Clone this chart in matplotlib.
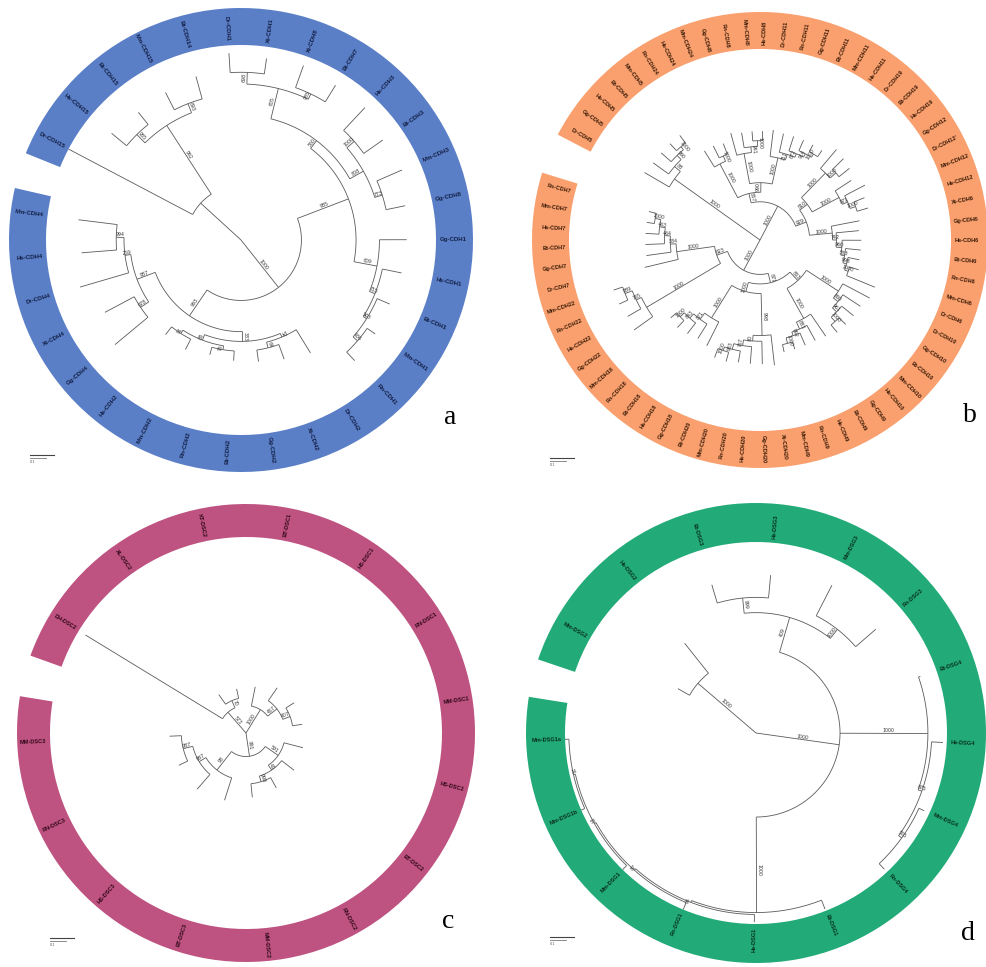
import numpy as np
import matplotlib
matplotlib.use("Agg")
import matplotlib.pyplot as plt
from matplotlib.patches import Wedge

W, H = 986, 967

# ---------------- panel a : classical cadherins ----------------
labels_a = ["Mm-CDH4", "Hs-CDH4", "Dr-CDH4", "Xt-CDH4", "Gg-CDH4", "Hs-CDH2",
            "Mm-CDH2", "Rn-CDH2", "Bt-CDH2", "Gg-CDH2", "Xt-CDH2", "Dr-CDH2",
            "Rn-CDH1", "Mm-CDH1", "Bt-CDH1", "Hs-CDH1", "Gg-CDH1", "Gg-CDH8",
            "Mm-CDH3", "Bt-CDH3", "Hs-CDH3", "Bt-CDH7", "Xt-CDH8", "Xt-CDH1",
            "Dr-CDH1", "Bt-CDH14", "Mm-CDH15", "Bt-CDH15", "Hs-CDH15", "Dr-CDH15"]
cdh4_a = "(((Mm-CDH4:0.2,Hs-CDH4:0.18)994:0.04,Dr-CDH4:0.26)259:0.03,(Xt-CDH4:0.17,Gg-CDH4:0.22)678:0.05)987:0.1"
cdh2_a = ("(((Hs-CDH2:0.05,Mm-CDH2:0.06)91:0.02,(Rn-CDH2:0.04,Bt-CDH2:0.05)76:0.02)88:0.03,"
          "((Gg-CDH2:0.06,Xt-CDH2:0.08)64:0.03,Dr-CDH2:0.14)52:0.02)383:0.05")
cdh1_a = "((((Rn-CDH1:0.06,Mm-CDH1:0.05)436:0.03,Bt-CDH1:0.07)563:0.02,Hs-CDH1:0.1)715:0.03,Gg-CDH1:0.14)609:0.12"
cdh38_a = "((Gg-CDH8:0.1,Mm-CDH3:0.14)773:0.04,(Bt-CDH3:0.12,Hs-CDH3:0.16)1000:0.05)808:0.08"
top_a = "((Bt-CDH7:0.1,Xt-CDH8:0.12)985:0.03,(Xt-CDH1:0.08,Dr-CDH1:0.1)698:0.06)605:0.16"
cdh15_a = ("(Dr-CDH15:0.72,((Bt-CDH14:0.12,Mm-CDH15:0.1)893:0.05,"
           "(Bt-CDH15:0.08,Hs-CDH15:0.1)985:0.06)992:0.42):0.28")
tree_a = ("(((" + cdh4_a + "," + cdh2_a + ")993:0.16,(" + cdh1_a + ",(" + cdh38_a + ","
          + top_a + ")550:0.05)985:0.28)1000:0.31," + cdh15_a + ");")

# ---------------- panel b : type II cadherins ----------------
labels_b = ["Rn-CDH7", "Mm-CDH7", "Hs-CDH7", "Bt-CDH7", "Gg-CDH7", "Dr-CDH7",
            "Mm-CDH22", "Rn-CDH22", "Hs-CDH22", "Gg-CDH22",
            "Mm-CDH18", "Rn-CDH18", "Bt-CDH18", "Hs-CDH18", "Gg-CDH18",
            "Bt-CDH20", "Mm-CDH20", "Rn-CDH20", "Hs-CDH20", "Gg-CDH20", "Xt-CDH20",
            "Mm-CDH9", "Rn-CDH9", "Hs-CDH9", "Bt-CDH9", "Gg-CDH9",
            "Hs-CDH10", "Mm-CDH10", "Bt-CDH10", "Gg-CDH10", "Dr-CDH10",
            "Dr-CDH6", "Mm-CDH6", "Rn-CDH6", "Bt-CDH6", "Hs-CDH6", "Gg-CDH6", "Xt-CDH6",
            "Hs-CDH12", "Mm-CDH12", "Dr-CDH12'", "Gg-CDH12",
            "Hs-CDH19", "Bt-CDH19", "Dr-CDH19",
            "Hs-CDH11", "Mm-CDH11", "Bt-CDH11", "Gg-CDH11", "Rn-CDH11", "Dr-CDH11",
            "Hs-CDH8", "Mm-CDH8", "Rn-CDH8", "Gg-CDH8",
            "Mm-CDH24", "Hs-CDH24", "Rn-CDH24",
            "Mm-CDH5", "Bt-CDH5", "Hs-CDH5", "Gg-CDH5", "Dr-CDH5"]
g7_b = "(((((Rn-CDH7:0.04,Mm-CDH7:0.04)1000:0.03,Hs-CDH7:0.07)463:0.03,Bt-CDH7:0.1)464:0.03,Gg-CDH7:0.13)384:0.03,Dr-CDH7:0.18)"
g22_b = "(((Mm-CDH22:0.05,Rn-CDH22:0.05)989:0.04,Hs-CDH22:0.08)765:0.03,Gg-CDH22:0.12)"
g18_b = "((((Mm-CDH18:0.04,Rn-CDH18:0.05)1000:0.03,Bt-CDH18:0.07)843:0.03,Hs-CDH18:0.09)871:0.04,Gg-CDH18:0.14)"
g20_b = "(((((Bt-CDH20:0.05,Mm-CDH20:0.05)1000:0.02,Rn-CDH20:0.06)983:0.03,Hs-CDH20:0.09)767:0.03,Gg-CDH20:0.12)80:0.03,Xt-CDH20:0.16)"
g9_b = "((((Mm-CDH9:0.04,Rn-CDH9:0.04)1000:0.03,Hs-CDH9:0.07)992:0.02,Bt-CDH9:0.09)883:0.04,Gg-CDH9:0.14)"
g10_b = "((((Hs-CDH10:0.05,Mm-CDH10:0.05)1000:0.03,Bt-CDH10:0.08)961:0.03,Gg-CDH10:0.11)860:0.03,Dr-CDH10:0.16)"
g6_b = ("((((((Dr-CDH6:0.16,Mm-CDH6:0.05)1000:0.02,Rn-CDH6:0.06)998:0.02,Bt-CDH6:0.08)583:0.02,"
        "Hs-CDH6:0.1)960:0.03,Gg-CDH6:0.12)742:0.02,Xt-CDH6:0.15)")
g12_b = "(((Hs-CDH12:0.06,Mm-CDH12:0.06)1000:0.03,Dr-CDH12':0.12)871:0.03,Gg-CDH12:0.1)"
g19_b = "((Hs-CDH19:0.07,Bt-CDH19:0.08)1000:0.04,Dr-CDH19:0.13)"
g11_b = ("(((((Hs-CDH11:0.04,Mm-CDH11:0.04)1000:0.02,Bt-CDH11:0.06)914:0.02,Gg-CDH11:0.08)872:0.02,"
         "Rn-CDH11:0.1)711:0.03,Dr-CDH11:0.14)")
g8_b = "(((Hs-CDH8:0.05,Mm-CDH8:0.05)1000:0.03,Rn-CDH8:0.08)941:0.03,Gg-CDH8:0.12)"
g24_b = "((Mm-CDH24:0.06,Hs-CDH24:0.07)1000:0.03,Rn-CDH24:0.1)"
g5_b = "((((Mm-CDH5:0.05,Bt-CDH5:0.05)1000:0.02,Hs-CDH5:0.07)990:0.03,Gg-CDH5:0.1)88:0.04,Dr-CDH5:0.15)"
tree_b = ("(((" + g7_b + "1000:0.2," + g22_b + "1000:0.45)623:0.06,((" + g18_b + "1000:0.2," + g20_b
          + "998:0.22)1000:0.05,(" + g9_b + "1000:0.18," + g10_b + "1000:0.2)863:0.06)871:0.05)1000:0.18,"
          + "((" + g6_b + "1000:0.12,(" + g12_b + "1000:0.16," + g19_b + "1000:0.18)810:0.05)929:0.06,(("
          + g11_b + "1000:0.14," + g8_b + "1000:0.16)990:0.05," + g24_b + "1000:0.2)857:0.05)1000:0.2,"
          + g5_b + "1000:0.55);")

# ---------------- panel c : desmocollins ----------------
labels_c = ["MM-DSC3", "RN-DSC3", "HS-DSC3", "BT-DSC3", "MM-DSC2", "RN-DSC2",
            "BT-DSC2", "HS-DSC2", "MM-DSC1", "RN-DSC1", "HS-DSC1", "BT-DSC1",
            "KT-DSC2", "XL-DSC2", "DH-DSC2"]
tree_c = ("(((((MM-DSC3:0.06,RN-DSC3:0.05)987:0.05,HS-DSC3:0.1)987:0.04,BT-DSC3:0.12)98:0.12,"
          "(((MM-DSC2:0.07,RN-DSC2:0.06)998:0.03,BT-DSC2:0.08)43:0.03,HS-DSC2:0.1)591:0.08)991:0.12,"
          "(((MM-DSC1:0.05,RN-DSC1:0.05)407:0.04,HS-DSC1:0.08)457:0.06,BT-DSC1:0.1)1000:0.14,"
          "((KT-DSC2:0.05,XL-DSC2:0.06)70:0.04,DH-DSC2:0.82)573:0.14);")

# ---------------- panel d : desmogleins ----------------
labels_d = ["Mm-DSG1a", "Mm-DSG1b", "Mm-DSG1", "Rn-DSG1", "Hs-DSG1", "Bt-DSG1",
            "Rn-DSG4", "Mm-DSG4", "Hs-DSG4", "Bt-DSG4", "Rn-DSG3", "Mm-DSG3",
            "Hs-DSG3", "Bt-DSG3", "Hs-DSG2", "Mm-DSG2"]
tree_d = ("(((((((Mm-DSG1a:0.02,Mm-DSG1b:0.02)14:0.01,Mm-DSG1:0.03)53:0.01,Rn-DSG1:0.04)87:0.01,"
          "Hs-DSG1:0.04)94:0.01,Bt-DSG1:0.05)1000:0.5,"
          "(((Rn-DSG4:0.04,Mm-DSG4:0.03)555:0.02,Hs-DSG4:0.06)875:0.02,Bt-DSG4:0.01)1000:0.46,"
          "((Rn-DSG3:0.14,Mm-DSG3:0.18)1000:0.06,(Hs-DSG3:0.12,Bt-DSG3:0.1)999:0.08)409:0.19)1000:0.44,"
          "(Hs-DSG2:0.2,Mm-DSG2:0.07)1000:0.4);")


def parse_newick(s):
    pos = 0

    def node():
        nonlocal pos
        nd = {"children": [], "name": "", "length": 0.0}
        if s[pos] == "(":
            pos += 1
            while True:
                nd["children"].append(node())
                if s[pos] == ",":
                    pos += 1
                elif s[pos] == ")":
                    pos += 1
                    break
                else:
                    raise ValueError("bad newick near position %d" % pos)
        start = pos
        while pos < len(s) and s[pos] not in ":,();":
            pos += 1
        nd["name"] = s[start:pos]
        if pos < len(s) and s[pos] == ":":
            pos += 1
            start = pos
            while pos < len(s) and s[pos] not in ",();":
                pos += 1
            nd["length"] = float(s[start:pos])
        return nd

    tree = node()
    if s[pos] != ";":
        raise ValueError("unbalanced newick")
    return tree


def radial_rotation(ang):
    a = ang % 360
    if 90 < a <= 270:
        return a - 180, "right"
    return (a if a <= 90 else a - 360), "left"


fig = plt.figure(figsize=(W / 100, H / 100), dpi=100)

LINE = "#5a5a5a"


def draw_panel(cx, cy, rin, rout, start, step, labels, tree, ring_color, text_color,
               fsize, letter, letter_xy, bar_xy):
    L = rout / rin + 0.08
    ax = fig.add_axes([(cx - L * rin) / W, (H - cy - L * rin) / H, 2 * L * rin / W, 2 * L * rin / H])
    ax.set_xlim(-L, L)
    ax.set_ylim(-L, L)
    ax.axis("off")
    ax.patch.set_visible(False)

    n = len(labels)
    angles = start + step * np.arange(n)
    ro = rout / rin
    ax.add_patch(Wedge((0, 0), ro, angles[0] - step / 2, angles[-1] + step / 2,
                       width=ro - 1.0, facecolor=ring_color, edgecolor="none"))
    for lab, ang in zip(labels, angles):
        t = np.deg2rad(ang)
        r0 = 1.02
        rot, ha = radial_rotation(ang)
        ax.text(r0 * np.cos(t), r0 * np.sin(t), lab, rotation=rot, rotation_mode="anchor",
                ha=ha, va="center", fontsize=fsize, color=text_color, fontweight="bold",
                family=["Liberation Sans", "DejaVu Sans"])

    index = {lab: i for i, lab in enumerate(labels)}
    root = parse_newick(tree)

    def walk(nd, r_parent):
        r = r_parent + nd["length"]
        if nd["children"]:
            ch = [walk(c, r) for c in nd["children"]]
            lo, hi = min(ch), max(ch)
            ang = 0.5 * (lo + hi)
            th = np.deg2rad(np.linspace(lo, hi, int(hi - lo) + 2))
            ax.plot(r * np.cos(th), r * np.sin(th), color=LINE, lw=0.6, solid_capstyle="butt")
        else:
            ang = angles[index[nd["name"]]]
        t = np.deg2rad(ang)
        if nd["length"] > 0:
            ax.plot([r_parent * np.cos(t), r * np.cos(t)], [r_parent * np.sin(t), r * np.sin(t)],
                    color=LINE, lw=0.6, solid_capstyle="butt")
        if nd["children"] and nd["name"] and nd["length"] > 0:
            rm = r_parent + 0.55 * nd["length"]
            rot, _ = radial_rotation(ang)
            ax.text(rm * np.cos(t), rm * np.sin(t), nd["name"], rotation=rot, rotation_mode="anchor",
                    ha="center", va="bottom", fontsize=3.4, color="#333333")
        return ang

    walk(root, 0.0)

    # scale bar
    bx, by = (bar_xy[0] - cx) / rin, (cy - bar_xy[1]) / rin
    ax.plot([bx, bx + 24 / rin], [by, by], color="#444444", lw=0.8, clip_on=False)
    ax.plot([bx, bx + 16 / rin], [by - 3 / rin, by - 3 / rin], color="#777777", lw=0.6, clip_on=False)
    ax.text(bx, by - 5 / rin, "0.1", fontsize=2.5, color="#555555", va="top", ha="left")

    fig.text(letter_xy[0] / W, 1 - letter_xy[1] / H, letter, fontsize=20,
             family=["Liberation Serif", "DejaVu Serif"], ha="center", va="center")


draw_panel(241, 240, 195, 232, 172.9, 11.7, labels_a, tree_a, "#5b7fc7", "#121f45", 4.4,
           "a", (450, 418), (30, 455))
draw_panel(760, 240, 191, 228, 165.6, 5.55, labels_b, tree_b, "#f9a06e", "#3d1c08", 4.1,
           "b", (970, 415), (550, 458))
draw_panel(246, 733, 196, 229, 182.4, 23.3, labels_c, tree_c, "#be5280", "#2e0818", 4.1,
           "c", (448, 922), (50, 938))
draw_panel(756, 733, 191, 230, 181.9, 21.9, labels_d, tree_d, "#22aa78", "#07301e", 4.1,
           "d", (968, 933), (550, 937))

fig.savefig("out.png", dpi=100, facecolor="white")
